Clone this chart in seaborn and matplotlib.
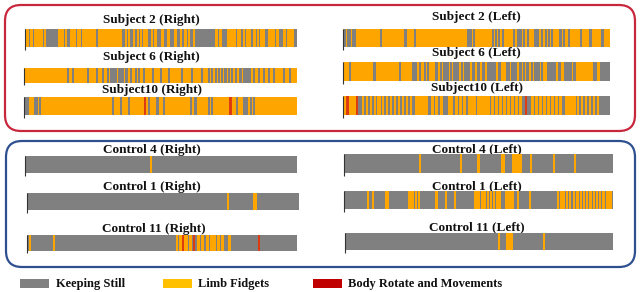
import numpy as np
import pandas as pd
import matplotlib
matplotlib.use("Agg")
import matplotlib.pyplot as plt
import seaborn as sns
from matplotlib.colors import ListedColormap
from matplotlib.patches import FancyBboxPatch, Rectangle

sns.set_theme(style="white")
plt.rcParams['font.family'] = ['Liberation Serif', 'DejaVu Serif']

# ---------------- data ----------------
STATES = ["Keeping Still", "Limb Fidgets", "Body Rotate and Movements"]
STRIP_COLORS = ["#808080", "#FFA500", "#DC3C10"]
LEGEND_COLORS = ["#808080", "#FFC000", "#C00000"]

# intervals are (start %, end %) of the recording; base = state filling the rest
s2r_base = 0
s2r_fidget = [(0.5,1.2),(2.0,2.8),(3.6,4.4),(4.6,5.4),(5.8,6.6),(7.0,7.6),
              (12.4,14.2),(14.8,15.4),(16.6,18.4),(19.2,20.4),(21.0,22.6),(23.0,23.6),(24.2,25.8),
              (27.0,35.6),(36.8,37.4),(38.0,38.6),(39.8,40.4),(41.2,41.8),(42.4,43.0),
              (43.6,45.2),(46.4,47.0),(47.6,48.2),(50.0,51.0),(52.4,53.0),(55.0,55.6),
              (57.0,57.6),(58.6,59.2),(60.0,60.6),(61.8,62.4),(70.2,70.8),(71.6,72.2),
              (74.4,76.2),(76.8,77.4),(78.2,79.4),(80.2,80.8),(81.6,82.8),(84.0,84.6),(85.4,86.0),
              (86.6,88.0),(89.4,91.6),(92.6,93.2),(95.0,95.6),(96.6,98.6)]
s2r_rotate = []

s6r_base = 1
s6r_still = [(15.9,16.4),(17.7,18.1),(23.2,23.6),(26.6,27.0),(28.6,29.0),(30.7,31.1),(31.6,33.1),
             (33.6,34.0),(34.5,35.0),(35.4,35.8),(36.2,36.6),(37.2,37.8),(39.0,39.4),(40.8,41.2),
             (42.0,42.4),(43.8,44.2),(46.9,47.3),(49.9,50.3),(53.0,53.4),(57.8,58.2),(61.5,61.9),
             (65.1,65.5),(67.6,68.0),(68.8,69.2),(70.0,70.4),(71.2,71.6),(72.4,72.8),(73.6,74.0),
             (74.9,75.3),(76.1,76.5),(77.3,77.7),(79.1,79.5),(80.5,81.2),(81.6,83.0),(84.0,84.4),
             (85.8,86.2),(87.6,88.0),(89.5,89.9),(91.3,91.7),(94.9,95.3),(97.4,97.8)]
s6r_rotate = []

s10r_base = 1
s10r_still = [(0.2,0.8),(1.0,1.6),(3.7,4.1),(4.7,5.1),(5.5,5.9),(32.3,32.8),(35.3,35.7),(38.4,38.8),
              (45.7,46.1),(48.7,49.1),(51.1,51.5),(60.9,61.3),(62.6,63.2),(67.6,68.0),(68.8,69.2),
              (77.9,78.3),(80.5,81.0),(81.6,82.0),(82.8,83.2),(84.0,84.4)]
s10r_rotate = [(44.0,44.6),(75.4,76.1)]

s2l_base = 1
s2l_still = [(0.7,1.1),(1.5,1.9),(2.5,2.9),(3.4,3.8),(4.3,4.7),(14.0,14.4),(23.2,23.6),(26.8,27.2),
             (46.8,47.5),(47.7,48.1),(48.8,49.4),(56.0,56.4),(57.2,57.6),(58.4,58.8),(59.7,60.1),
             (63.9,64.3),(65.4,66.0),(66.3,66.7),(67.6,68.0),(69.1,69.5),(71.7,72.3),(72.8,73.2),
             (74.3,74.7),(75.7,76.1),(76.9,77.3),(78.1,78.5),(81.2,81.8),(82.5,82.9),(84.6,85.0),
             (88.8,89.2),(92.5,92.9),(97.0,97.6)]
s2l_rotate = []

s6l_base = 1
s6l_still = [(2.5,2.9),(11.6,12.0),(21.3,21.7),(26.0,27.6),(28.5,29.1),(30.4,31.0),(31.6,32.2),
             (34.5,35.3),(36.4,37.0),(37.7,38.3),(38.9,39.5),(40.1,40.7),(41.5,42.1),(42.5,43.1),
             (44.3,44.9),(45.6,46.2),(46.8,47.4),(48.6,49.2),(50.4,51.0),(52.3,52.9),(54.1,54.7),
             (55.3,55.9),(56.5,57.1),(58.3,58.9),(61.1,62.3),(63.2,63.8),(64.4,65.0),(66.2,66.8),
             (67.5,68.1),(68.7,69.3),(70.5,71.1),(71.7,72.3),(72.9,73.5),(74.2,74.8),(76.6,77.2),
             (77.8,78.4),(79.0,79.6),(80.8,81.4),(83.0,85.4),(86.3,86.9),(93.9,95.1),(96.4,100.0)]
s6l_rotate = []

s10l_base = 0
s10l_fidget = [(0.0,1.2),(2.0,4.5),(7.2,7.8),(8.7,9.3),(10.2,10.8),(11.7,12.3),(13.1,14.1),(14.7,15.3),
               (16.2,16.8),(17.7,18.3),(19.2,19.8),(20.7,21.3),(22.2,22.8),(23.7,24.3),(25.2,25.8),
               (27.0,31.5),(33.2,33.8),(34.7,35.3),(36.7,37.3),(39.5,41.0),(42.2,42.8),(43.7,44.3),
               (45.2,45.8),(47.0,49.7),(50.3,51.7),(52.3,55.0),(55.7,56.3),(57.2,57.8),(58.7,59.3),
               (60.2,60.8),(61.7,62.3),(63.2,63.8),(64.7,65.3),(66.2,66.8),(70.7,71.3),(72.2,72.8),
               (73.7,74.3),(75.2,75.8),(76.7,77.3),(78.2,78.8),(79.7,80.3),(81.2,81.8),(83.5,87.0),
               (87.7,88.3),(89.2,89.8),(90.7,91.3),(92.2,92.8),(93.7,94.3),(95.2,95.8)]
s10l_rotate = [(1.2,2.0),(4.9,5.4),(68.3,68.8)]

c4r_base = 0
c4r_fidget = [(46.1,46.6)]
c4r_rotate = []

c1r_base = 0
c1r_fidget = [(73.8,74.2),(83.3,84.2)]
c1r_rotate = []

c11r_base = 0
c11r_fidget = [(1.0,1.4),(9.7,10.1),(55.2,55.8),(56.5,57.3),(58.5,59.5),(60.2,61.0),(63.0,64.0),
               (64.5,65.5),(66.5,67.2),(67.8,68.6),(69.0,70.0),(70.5,71.3),(72.0,72.6),(74.8,75.2)]
c11r_rotate = [(57.6,58.0),(61.6,62.0),(85.9,86.2)]

c4l_base = 0
c4l_fidget = [(28.1,28.5),(43.3,43.7),(49.5,50.2),(58.6,59.6),(62.6,63.0),(63.4,63.8),(64.1,64.5),
              (64.9,65.3),(65.5,65.9),(69.4,69.8),(77.9,78.3),(85.8,86.2)]
c4l_rotate = []

c1l_base = 0
c1l_fidget = [(8.7,9.1),(10.5,10.9),(15.5,16.5),(23.8,24.2),(24.8,25.2),(25.6,26.0),(26.5,26.9),
              (27.7,28.1),(34.2,34.6),(37.8,38.2),(40.9,41.3),(48.4,49.6),(50.0,50.5),(51.0,51.5),
              (52.0,52.6),(53.2,53.7),(54.3,54.8),(55.5,56.0),(56.6,57.0),(57.6,58.1),(59.9,62.9),
              (64.6,65.0),(68.8,69.2),(79.3,79.8),(80.3,80.8),(81.4,81.9),(82.6,83.1),(83.8,84.3),
              (85.2,85.7),(86.5,87.0),(87.8,88.3),(89.0,89.5),(90.2,90.7),(91.4,91.9),(92.6,93.1),
              (93.8,94.3),(95.0,95.5),(96.2,96.7),(97.4,97.9),(98.4,98.9),(99.2,99.6)]
c1l_rotate = []

c11l_base = 0
c11l_fidget = [(57.3,57.7),(60.1,60.5),(60.7,61.1),(61.4,61.8),(62.1,62.5),(74.1,74.5)]
c11l_rotate = []

titles = ["Subject 2 (Right)", "Subject 6 (Right)", "Subject10 (Right)",
          "Subject 2 (Left)", "Subject 6 (Left)", "Subject10 (Left)",
          "Control 4 (Right)", "Control 1 (Right)", "Control 11 (Right)",
          "Control 4 (Left)", "Control 1 (Left)", "Control 11 (Left)"]

# (title, base, [(state, intervals)])
strips = [
    (titles[0], s2r_base, [(1, s2r_fidget), (2, s2r_rotate)]),
    (titles[1], s6r_base, [(0, s6r_still), (2, s6r_rotate)]),
    (titles[2], s10r_base, [(0, s10r_still), (2, s10r_rotate)]),
    (titles[3], s2l_base, [(0, s2l_still), (2, s2l_rotate)]),
    (titles[4], s6l_base, [(0, s6l_still), (2, s6l_rotate)]),
    (titles[5], s10l_base, [(1, s10l_fidget), (2, s10l_rotate)]),
    (titles[6], c4r_base, [(1, c4r_fidget), (2, c4r_rotate)]),
    (titles[7], c1r_base, [(1, c1r_fidget), (2, c1r_rotate)]),
    (titles[8], c11r_base, [(1, c11r_fidget), (2, c11r_rotate)]),
    (titles[9], c4l_base, [(1, c4l_fidget), (2, c4l_rotate)]),
    (titles[10], c1l_base, [(1, c1l_fidget), (2, c1l_rotate)]),
    (titles[11], c11l_base, [(1, c11l_fidget), (2, c11l_rotate)]),
]

# ---------------- layout (pixels) ----------------
W, H = 640, 292
# strip boxes: x0, x1, y0, y1 ; title centre x, y
strip_boxes = [
    (25, 297, 29, 47, 151, 20), (24, 297, 68, 83, 151, 57), (24, 297, 97, 115, 152, 90),
    (343, 610, 29, 47, 476, 17), (343, 610, 62, 81, 476, 53), (343, 610, 96, 115, 477, 88),
    (25, 297, 156, 173, 152, 150), (27, 299, 193, 210, 152, 187), (27, 297, 235, 251, 154, 229),
    (344, 613, 154, 173, 477, 149), (344, 613, 191, 209, 477, 186), (345, 613, 233, 250, 477, 227),
]

fig = plt.figure(figsize=(6.4, 2.92), dpi=100)
fig.patch.set_facecolor("white")

bg = fig.add_axes([0, 0, 1, 1], zorder=0)
bg.set_xlim(0, W)
bg.set_ylim(H, 0)
bg.axis("off")

bg.add_patch(FancyBboxPatch((5, 5), 630, 126, boxstyle="round,pad=0,rounding_size=16",
                            ec="#C8283C", fc="none", lw=1.6))
bg.add_patch(FancyBboxPatch((6, 141), 629, 126, boxstyle="round,pad=0,rounding_size=16",
                            ec="#2E5090", fc="none", lw=1.6))

cmap = ListedColormap(STRIP_COLORS)


def rasterize(base, overlays, n):
    arr = np.full(n, base, dtype=float)
    for state, ivs in overlays:
        for a, b in ivs:
            i0 = int(np.floor(a / 100 * n))
            i1 = max(i0 + 1, int(np.ceil(b / 100 * n)))
            arr[i0:min(i1, n)] = state
    return arr


for (title, base, overlays), (x0, x1, y0, y1, tx, ty) in zip(strips, strip_boxes):
    ax = fig.add_axes([x0 / W, 1 - y1 / H, (x1 - x0) / W, (y1 - y0) / H], zorder=2)
    n_bins = x1 - x0  # one bin per output pixel
    df = pd.DataFrame(rasterize(base, overlays, n_bins).reshape(1, -1))
    sns.heatmap(df, ax=ax, cmap=cmap, vmin=-0.5, vmax=2.5, cbar=False,
                xticklabels=False, yticklabels=False)
    ax.set_xlabel("")
    ax.set_ylabel("")
    ax.vlines(0, 0, 1.15, color="#333333", lw=0.8, clip_on=False)
    bg.text(tx, ty, title, ha="center", va="center", fontsize=9.5, fontweight="bold",
            color="#111111")

# legend
leg_items = [(20, 56), (163, 198), (313, 348)]
for (px, tx), lab, col in zip(leg_items, STATES, LEGEND_COLORS):
    bg.add_patch(Rectangle((px, 279), 29, 9, fc=col, ec="none"))
    bg.text(tx, 283.5, lab, ha="left", va="center", fontsize=9, fontweight="bold",
            color="#111111")

fig.savefig("out.png", dpi=100)
